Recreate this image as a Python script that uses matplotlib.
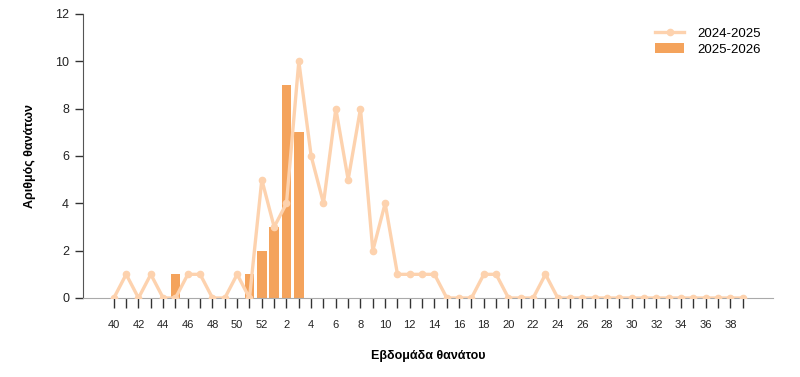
import matplotlib
matplotlib.use("Agg")
import matplotlib.pyplot as plt
import numpy as np

plt.rcParams['font.family'] = ['Liberation Sans', 'DejaVu Sans']

weeks = [40, 41, 42, 43, 44, 45, 46, 47, 48, 49, 50, 51, 52] + list(range(1, 40))
deaths_2024_2025 = [0, 1, 0, 1, 0, 0, 1, 1, 0, 0, 1, 0, 5,
                    3, 4, 10, 6, 4, 8, 5, 8, 2, 4, 1, 1, 1, 1, 0, 0, 0, 1, 1, 0,
                    0, 0, 1, 0, 0, 0, 0, 0, 0, 0, 0, 0, 0, 0, 0, 0, 0, 0, 0]
bar_weeks_2025_2026 = [45, 51, 52, 1, 2, 3]
deaths_2025_2026 = [1, 1, 2, 3, 9, 7]

label_line = "2024-2025"
label_bar = "2025-2026"

fig = plt.figure(figsize=(8, 3.77), dpi=100)
ax = fig.add_axes([83/800, 1-298/377, 690/800, 284/377])

pos = {w: i for i, w in enumerate(weeks)}
x = np.arange(len(weeks))
bx = [pos[w] for w in bar_weeks_2025_2026]

ax.bar(bx, deaths_2025_2026, width=0.8, color='#f4a35c', label=label_bar, zorder=2)
ax.plot(x, deaths_2024_2025, color='#fdd2ae', lw=2.4, marker='o',
        markersize=4.5, label=label_line, zorder=3)

ax.set_xlim(-2.5, len(weeks) - 1 + 2.45)
ax.set_ylim(0, 12)
ax.set_yticks(range(0, 13, 2))
ax.set_xticks(x)
ax.set_xticklabels([str(w) if i % 2 == 0 else '' for i, w in enumerate(weeks)], fontsize=8, color='#222222')
ax.tick_params(axis='x', length=7, width=1, color='#333333', pad=9)
ax.tick_params(axis='y', length=6, width=1, color='#333333', labelsize=9, labelcolor='#222222', pad=4)

for s in ['top', 'right']:
    ax.spines[s].set_visible(False)
ax.spines['left'].set_color('#555555')
ax.spines['bottom'].set_color('#aaaaaa')

ax.set_xlabel('Εβδομάδα θανάτου', fontsize=9, fontweight='bold', labelpad=14)
ax.set_ylabel('Αριθμός θανάτων', fontsize=9, fontweight='bold', labelpad=14)

handles, labels = ax.get_legend_handles_labels()
order = [labels.index(label_line), labels.index(label_bar)]
ax.legend([handles[i] for i in order], [labels[i] for i in order], loc='upper right',
          bbox_to_anchor=(1.0, 0.995), frameon=False, fontsize=9.5, handlelength=2.2,
          handletextpad=1.0, labelspacing=0.3)

fig.savefig('out.png', dpi=100)
